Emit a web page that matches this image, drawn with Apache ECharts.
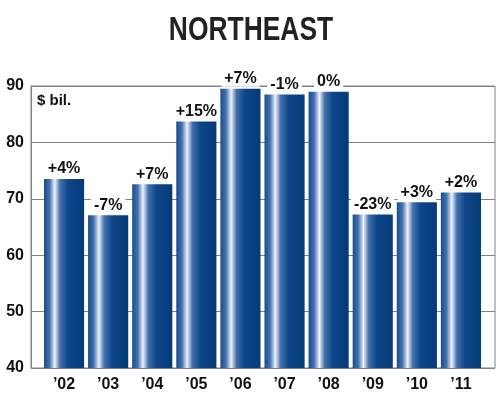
<!DOCTYPE html>
<html>
<head>
<meta charset="utf-8">
<script src="https://cdn.jsdelivr.net/npm/echarts@6/dist/echarts.min.js"></script>
<style>
  html, body { margin: 0; padding: 0; background: #fff; }
  #chart { width: 500px; height: 400px; }
</style>
</head>
<body>
<div id="chart"></div>
<script>
// data
const years = ["\u201902", "\u201903", "\u201904", "\u201905", "\u201906", "\u201907", "\u201908", "\u201909", "\u201910", "\u201911"];
const spending = [73.5, 67.1, 72.6, 83.7, 89.5, 88.5, 89.0, 67.2, 69.4, 71.1];
const changes = ["+4%", "-7%", "+7%", "+15%", "+7%", "-1%", "0%", "-23%", "+3%", "+2%"];
const yTicks = [40, 50, 60, 70, 80, 90];

const fontMain = "Liberation Sans, Arial, sans-serif";
const grayLine = "#808080";

let chart = echarts.init(document.getElementById("chart"));

let barColor = new echarts.graphic.LinearGradient(0, 0, 1, 0, [
  { offset: 0, color: "#174c8e" },
  { offset: 0.14, color: "#4572b0" },
  { offset: 0.27, color: "#eef2fa" },
  { offset: 0.4, color: "#4470ae" },
  { offset: 0.6, color: "#0e468a" },
  { offset: 1, color: "#053a78" }
]);

let option = {
  animation: false,
  graphic: [
    {
      // condensed title: no narrow font installed, so squeeze it
      type: "text",
      x: 251,
      y: 14,
      scaleX: 0.8,
      style: {
        text: "NORTHEAST",
        font: "bold 33px " + fontMain,
        fill: "#222",
        textAlign: "center",
        textVerticalAlign: "top"
      }
    },
    {
      type: "text",
      left: 37,
      top: 93,
      style: {
        text: "$ bil.",
        font: "bold 15px " + fontMain,
        fill: "#111"
      }
    }
  ],
  grid: [
    // frame + y scale
    { left: 31, right: 5, top: 86, bottom: 32, show: true, borderColor: grayLine, borderWidth: 1, backgroundColor: "transparent" },
    // bars
    { left: 42, right: 17, top: 86, bottom: 32 }
  ],
  xAxis: [
    { gridIndex: 0, type: "value", show: false, min: 0, max: 1 },
    {
      gridIndex: 1,
      type: "category",
      data: years,
      axisLine: { show: false },
      axisTick: { show: false },
      axisLabel: {
        color: "#111",
        fontFamily: fontMain,
        fontWeight: "bold",
        fontSize: 16,
        margin: 9
      }
    }
  ],
  yAxis: [
    {
      gridIndex: 0,
      type: "value",
      min: yTicks[0],
      max: yTicks[yTicks.length - 1],
      interval: 10,
      axisLine: { show: true, lineStyle: { color: grayLine, width: 1 } },
      axisTick: { show: false },
      axisLabel: {
        color: "#111",
        fontFamily: fontMain,
        fontWeight: "bold",
        fontSize: 16,
        margin: 7
      },
      splitLine: { show: true, lineStyle: { color: grayLine, width: 1 } }
    },
    {
      gridIndex: 1,
      type: "value",
      min: yTicks[0],
      max: yTicks[yTicks.length - 1],
      show: false,
      splitLine: { show: false }
    }
  ],
  series: [
    {
      type: "bar",
      xAxisIndex: 1,
      yAxisIndex: 1,
      data: spending,
      barCategoryGap: "9%",
      itemStyle: { color: barColor },
      label: {
        show: true,
        position: "top",
        distance: 2,
        formatter: function (p) {
          return changes[p.dataIndex];
        },
        color: "#111",
        fontFamily: fontMain,
        fontWeight: "bold",
        fontSize: 16,
        backgroundColor: "#fff",
        padding: [0, 3, 0, 3]
      }
    }
  ]
};

chart.setOption(option);
</script>
</body>
</html>
